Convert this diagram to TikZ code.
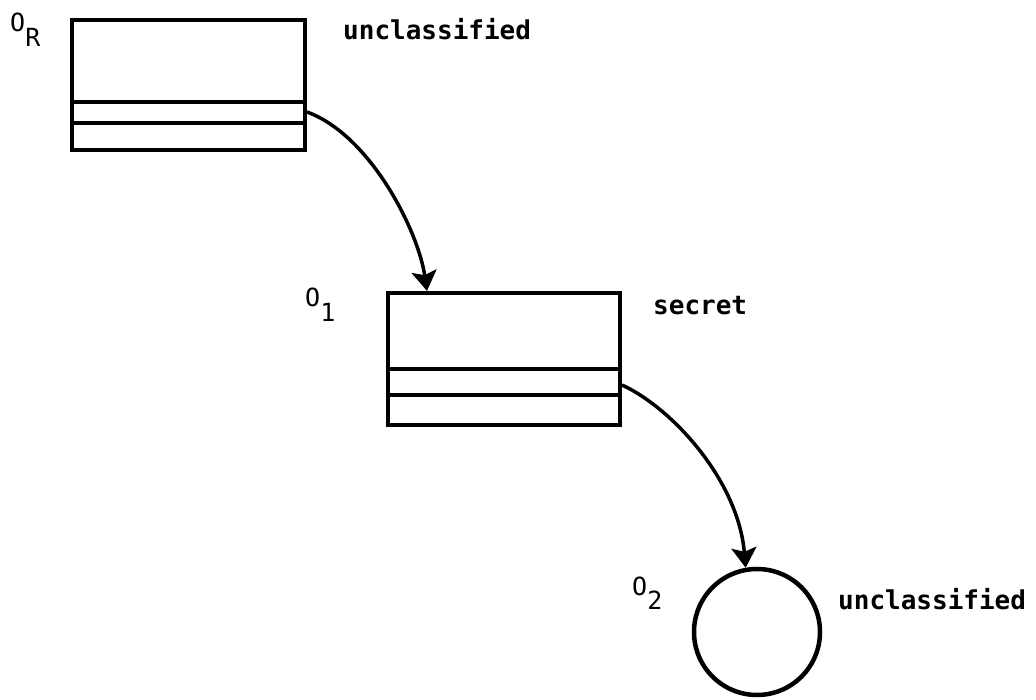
\documentclass[tikz,border=0pt]{standalone}
\usepackage{fontspec}
\setmonofont{DejaVu Sans Mono}
\usetikzlibrary{arrows.meta}
\tikzset{
  rec/.style={draw, line width=4pt, rectangle, inner sep=0pt},
  obj/.style={draw, line width=4.5pt, circle, inner sep=0pt},
  lvl/.style={anchor=base west, inner sep=0pt, font=\fontsize{26}{30}\selectfont\ttfamily\bfseries},
  olab/.style={anchor=base west, inner sep=0pt, font=\fontsize{25}{29}\selectfont\ttfamily},
  ptr/.style={line width=3.5pt, -{Stealth[length=20pt,width=25pt,inset=4pt]}},
  bar/.style={line width=3.5pt}
}
\begin{document}
\begin{tikzpicture}[x=1pt,y=1pt]
\useasboundingbox (0,0) rectangle (1036,700);
% object O_R
\node[rec, minimum width=233pt, minimum height=130pt] (R) at (188.5,615) {};
\draw[bar] ([yshift=50pt]R.south west) -- ([yshift=50pt]R.south east);
\draw[bar] ([yshift=29pt]R.south west) -- ([yshift=29pt]R.south east);
\node[olab] (lR) at (10,668) {O\raisebox{-15pt}{R}};
\node[lvl] (cR) at (343,660) {unclassified};
% object O_1
\node[rec, minimum width=232pt, minimum height=132pt] (A) at (504,341) {};
\draw[bar] ([yshift=58pt]A.south west) -- ([yshift=58pt]A.south east);
\draw[bar] ([yshift=32pt]A.south west) -- ([yshift=32pt]A.south east);
\node[olab] (lA) at (305,393) {O\raisebox{-15pt}{1}};
\node[lvl] (cA) at (653,385) {secret};
% object O_2
\node[obj, minimum size=126pt] (C) at (757,68) {};
\node[olab] (lC) at (632,104) {O\raisebox{-14pt}{2}};
\node[lvl] (cC) at (838,90) {unclassified};
% pointers
\draw[ptr] ([yshift=-27pt]R.east) .. controls (370,565) and (418,470) .. ([xshift=-77pt]A.north);
\draw[ptr] ([yshift=-26pt]A.east) .. controls (672,292) and (738,220) .. (C.100);
\end{tikzpicture}
\end{document}
